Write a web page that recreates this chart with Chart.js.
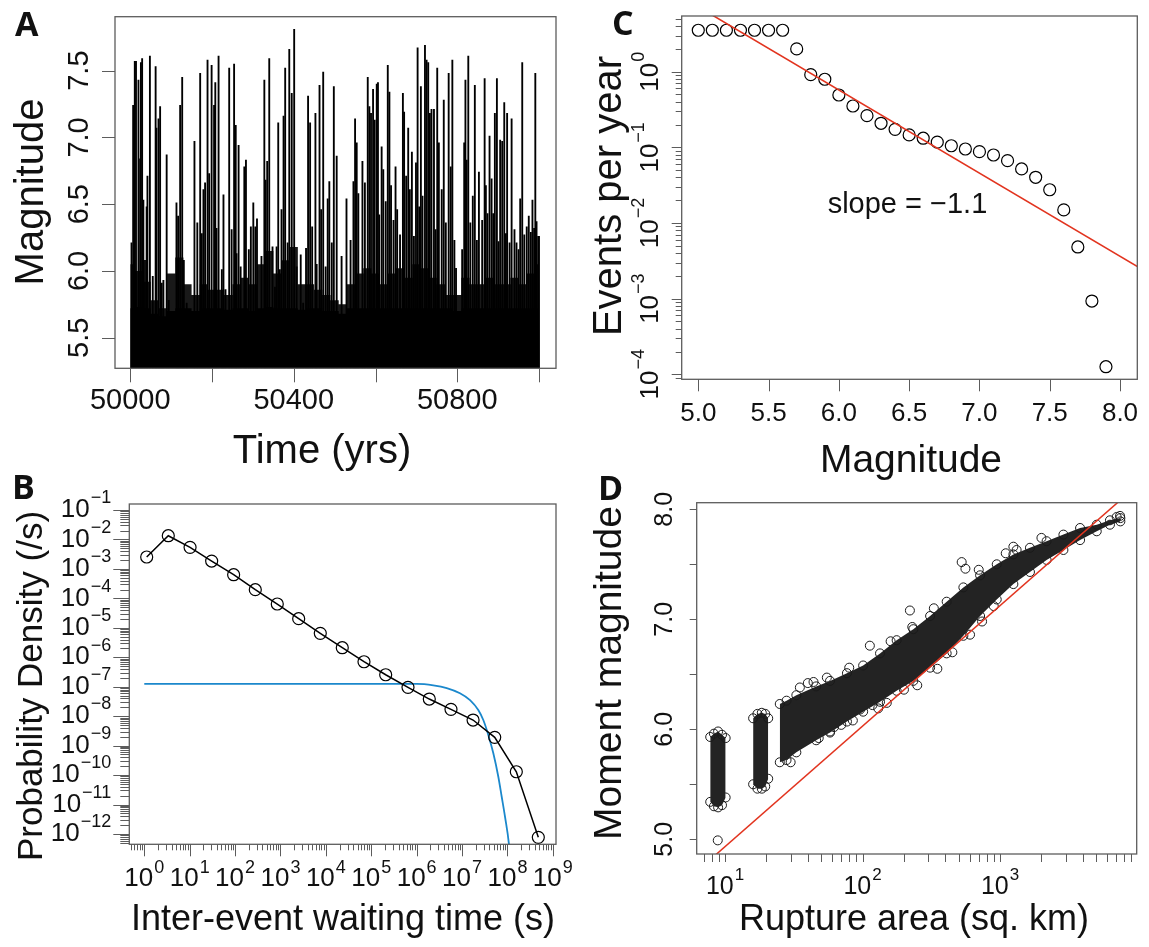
<!DOCTYPE html>
<html>
<head>
<meta charset="utf-8">
<script src="https://cdn.jsdelivr.net/npm/chart.js@4.4.1/dist/chart.umd.min.js"></script>
<style>
  html, body { margin: 0; padding: 0; background: #fff; }
  #fig { position: relative; width: 1149px; height: 947px; overflow: hidden; font-family: "Liberation Sans", Arial, sans-serif; color: #111; }
  #fig canvas { position: absolute; }
  .panel-tag { position: absolute; font-family: "Open Sans", sans-serif; font-weight: 700; font-size: 34px; line-height: 1; }
  .axis-title { position: absolute; white-space: nowrap; line-height: 1; transform: translate(-50%, -50%); }
  .axis-title.vert { transform: translate(-50%, -50%) rotate(-90deg); }
</style>
</head>
<body>
<div id="fig">
  <canvas id="chart-a" width="575" height="470" style="left:0;top:0"></canvas>
  <canvas id="chart-b" width="575" height="477" style="left:0;top:470px"></canvas>
  <canvas id="chart-c" width="574" height="470" style="left:575px;top:0"></canvas>
  <canvas id="chart-d" width="574" height="477" style="left:575px;top:470px"></canvas>

  <div class="panel-tag" style="left:15px;top:6px">A</div>
  <div class="panel-tag" style="left:12px;top:469px">B</div>
  <div class="panel-tag" style="left:612px;top:5px">C</div>
  <div class="panel-tag" style="left:598px;top:470px">D</div>

  <div class="axis-title vert" style="left:29px;top:192px;font-size:40px">Magnitude</div>
  <div class="axis-title" style="left:322px;top:449px;font-size:40px">Time (yrs)</div>
  <div class="axis-title vert" style="left:29px;top:686px;font-size:35px">Probability Density (/s)</div>
  <div class="axis-title" style="left:343px;top:918px;font-size:36px">Inter-event waiting time (s)</div>
  <div class="axis-title vert" style="left:607px;top:196px;font-size:40px">Events per year</div>
  <div class="axis-title" style="left:911px;top:458px;font-size:39px">Magnitude</div>
  <div class="axis-title vert" style="left:607px;top:673px;font-size:39px">Moment magnitude</div>
  <div class="axis-title" style="left:914px;top:918px;font-size:36px">Rupture area (sq. km)</div>
</div>

<script>
// ---- A: magnitude time series (years, magnitude of the taller spikes) ----
const aYears = [
  50003, 50007, 50011, 50014, 50020, 50024, 50026, 50029, 50032, 50036, 50040, 50042, 50048, 50055,
  50062, 50064, 50069, 50073, 50077, 50081, 50089, 50094, 50113, 50117, 50122, 50127, 50131, 50138,
  50157, 50164, 50171, 50175, 50179, 50183, 50189, 50193, 50199, 50205, 50208, 50211, 50216, 50224,
  50228, 50233, 50242, 50248, 50254, 50258, 50260, 50265, 50270, 50279, 50283, 50290, 50295, 50301,
  50306, 50310, 50321, 50328, 50331, 50335, 50340, 50348, 50354, 50358, 50362, 50366, 50370, 50375,
  50379, 50385, 50389, 50395, 50401, 50407, 50417, 50423, 50430, 50435, 50440, 50445, 50453, 50456,
  50463, 50467, 50472, 50478, 50483, 50487, 50493, 50498, 50505, 50517, 50529, 50539, 50546, 50550,
  50554, 50558, 50568, 50574, 50581, 50585, 50589, 50594, 50598, 50603, 50606, 50609, 50615, 50619,
  50625, 50630, 50634, 50638, 50644, 50649, 50653, 50660, 50667, 50670, 50675, 50680, 50684, 50689,
  50694, 50699, 50703, 50707, 50711, 50715, 50721, 50725, 50729, 50733, 50737, 50743, 50747, 50751,
  50755, 50762, 50767, 50772, 50779, 50784, 50788, 50793, 50797, 50812, 50817, 50820, 50823, 50827,
  50832, 50838, 50843, 50848, 50853, 50861, 50867, 50870, 50874, 50879, 50884, 50888, 50892, 50897,
  50901, 50905, 50910, 50915, 50919, 50922, 50928, 50933, 50940, 50945, 50950, 50954, 50959, 50964,
  50970, 50975, 50980, 50984, 50988, 50991, 50994, 50998, 51000,
];
const aMags = [
  6.21, 7.24, 7.57, 7.57, 7.43, 6.84, 7.56, 7.59, 6.53, 6.08, 6.48, 6.71, 7.61, 5.96,
  7.53, 7.07, 7.14, 7.23, 5.91, 5.93, 6.87, 5.78, 6.51, 6.41, 7.24, 7.45, 6.08, 5.76,
  6.97, 6.36, 7.48, 6.28, 6.61, 6.66, 7.58, 6.73, 7.54, 7.24, 7.41, 6.32, 7.61, 6.01,
  6.57, 5.86, 7.52, 6.31, 7.55, 7.09, 6.13, 6.94, 6.03, 6.78, 6.83, 6.16, 6.33, 6.51,
  6.33, 6.39, 6.11, 7.43, 6.68, 6.82, 7.59, 6.18, 5.88, 6.18, 7.11, 6.01, 6.46, 7.16,
  7.52, 6.21, 7.66, 7.33, 7.81, 6.03, 6.12, 5.76, 6.17, 7.31, 7.11, 6.33, 7.18, 6.05,
  7.39, 6.46, 7.49, 6.03, 6.54, 6.67, 6.21, 7.38, 6.86, 6.11, 6.54, 6.23, 6.67, 7.14,
  6.96, 6.58, 6.82, 6.66, 7.45, 7.23, 7.18, 7.36, 7.13, 7.40, 7.41, 6.42, 6.93, 6.76,
  6.52, 7.54, 7.34, 6.64, 6.38, 6.78, 6.46, 6.27, 7.33, 7.19, 6.71, 7.07, 6.61, 6.89,
  6.26, 6.81, 7.67, 6.48, 7.38, 6.56, 7.69, 7.58, 7.56, 7.18, 7.21, 7.21, 6.31, 7.52,
  6.96, 6.61, 7.28, 6.36, 7.48, 6.78, 7.58, 6.23, 6.02, 6.16, 6.96, 7.43, 6.83, 7.61,
  6.36, 6.56, 7.39, 6.23, 6.74, 6.38, 7.44, 6.64, 6.43, 7.01, 6.69, 6.43, 7.18, 7.44,
  6.22, 6.98, 6.97, 7.26, 6.28, 7.18, 6.21, 7.14, 6.31, 6.21, 6.16, 6.54, 7.56, 6.27,
  6.33, 6.41, 6.29, 6.53, 6.32, 7.48, 6.37, 6.26, 6.26,
];
// top of the dense band of small events, sampled every 20 years
const denseYears = [
  50000, 50020, 50040, 50060, 50080, 50100, 50120, 50140, 50160, 50180, 50200, 50220, 50240,
  50260, 50280, 50300, 50320, 50340, 50360, 50380, 50400, 50420, 50440, 50460, 50480, 50500,
  50520, 50540, 50560, 50580, 50600, 50620, 50640, 50660, 50680, 50700, 50720, 50740, 50760,
  50780, 50800, 50820, 50840, 50860, 50880, 50900, 50920, 50940, 50960, 50980, 51000,
];
const denseTop = [
  6.05, 6.00, 5.92, 5.78, 5.72, 5.98, 6.10, 5.90, 5.82, 5.90, 5.86, 5.86, 5.82,
  5.90, 5.95, 5.90, 6.05, 6.15, 5.98, 6.08, 6.18, 5.90, 5.90, 5.86, 5.82, 5.78,
  5.75, 5.90, 5.98, 6.02, 5.98, 5.90, 5.98, 6.02, 5.95, 6.05, 6.02, 5.95, 5.90,
  5.82, 5.82, 5.95, 5.90, 5.90, 5.95, 5.90, 5.90, 5.95, 5.90, 5.98, 6.05,
];
const floorTop = [
  5.72, 5.73, 5.72, 5.68, 5.66, 5.70, 5.72, 5.72, 5.70, 5.72, 5.72, 5.72, 5.71,
  5.72, 5.72, 5.70, 5.72, 5.73, 5.72, 5.72, 5.72, 5.71, 5.72, 5.72, 5.70, 5.70,
  5.68, 5.72, 5.72, 5.72, 5.72, 5.72, 5.72, 5.72, 5.72, 5.72, 5.72, 5.72, 5.72,
  5.72, 5.70, 5.72, 5.72, 5.72, 5.72, 5.72, 5.72, 5.72, 5.72, 5.72, 5.72,
];
const aXTicks = [50000, 50200, 50400, 50600, 50800, 51000];
const aXLabels = [50000, 50400, 50800];
const aYTicks = [5.5, 6.0, 6.5, 7.0, 7.5];
const aYLabels = ["5.5", "6.0", "6.5", "7.0", "7.5"];

// ---- B: waiting time distribution ----
const bWait = [1.13, 3.38, 10.2, 30.5, 93, 279, 851, 2520, 7540, 2.3e4, 6.92e4, 2.08e5, 6.45e5, 1.9e6, 5.71e6, 1.75e7, 5.25e7, 1.57e8, 4.79e8];
const bDensity = [2.54e-3, 1.34e-2, 5.41e-3, 1.85e-3, 6.35e-4, 1.97e-4, 6.43e-5, 2.04e-5, 6.5e-6, 2.11e-6, 7.06e-7, 2.55e-7, 9.55e-8, 3.82e-8, 1.71e-8, 7.4e-9, 1.91e-9, 1.3e-10, 7.69e-13];
const bFitWait = [1, 1e6, 2.33e6, 4.6e6, 9.0e6, 1.5e7, 2.28e7, 2.94e7, 3.79e7, 4.89e7, 6.3e7, 7.48e7, 8.85e7, 1.08e8, 1.2e8];
const bFitDensity = [1.24e-7, 1.24e-7, 1.11e-7, 9.0e-8, 6.0e-8, 3.5e-8, 1.62e-8, 7.4e-9, 2.3e-9, 5.5e-10, 8.8e-11, 1.84e-11, 3.85e-12, 4.5e-13, 6e-14];
const bXExps = [0, 1, 2, 3, 4, 5, 6, 7, 8, 9];
const bYExps = [-1, -2, -3, -4, -5, -6, -7, -8, -9, -10, -11, -12];

// ---- C: magnitude-frequency ----
const cMag = [5.0, 5.1, 5.2, 5.3, 5.4, 5.5, 5.6, 5.7, 5.8, 5.9, 6.0, 6.1, 6.2, 6.3, 6.4, 6.5, 6.6, 6.7, 6.8, 6.9, 7.0, 7.1, 7.2, 7.3, 7.4, 7.5, 7.6, 7.7, 7.8, 7.9];
const cRate = [3.53, 3.53, 3.53, 3.53, 3.53, 3.53, 3.53, 2.0, 0.913, 0.794, 0.492, 0.352, 0.262, 0.208, 0.173, 0.146, 0.132, 0.117, 0.105, 0.095, 0.0877, 0.0792, 0.0667, 0.0518, 0.0402, 0.0275, 0.0149, 0.00482, 0.00093, 0.000126];
const cLineMag = [4.88, 8.13];
const cLineRate = [9.75, 0.00262];
const cXTicks = [5.0, 5.5, 6.0, 6.5, 7.0, 7.5, 8.0];
const cYExps = [0, -1, -2, -3, -4];

// ---- D: magnitude vs rupture area ----
const dBandArea = [25, 28, 33, 46, 58, 77, 101, 134, 177, 234, 310, 409, 541, 716, 946, 1250, 1650, 2180, 2890, 3820, 5050, 6300, 7500];
const dBandUpper = [6.23, 6.26, 6.31, 6.39, 6.44, 6.51, 6.58, 6.69, 6.81, 6.91, 7.03, 7.16, 7.29, 7.40, 7.50, 7.59, 7.65, 7.71, 7.77, 7.83, 7.86, 7.90, 7.92];
const dBandLower = [5.70, 5.72, 5.79, 5.90, 5.97, 6.07, 6.16, 6.25, 6.35, 6.44, 6.56, 6.69, 6.85, 7.03, 7.18, 7.32, 7.43, 7.54, 7.63, 7.72, 7.80, 7.86, 7.89];
const dClusterOneArea = [7.8, 8.3, 8.9, 9.5, 10.1];
const dClusterOneUpper = [5.93, 5.96, 5.98, 5.95, 5.92];
const dClusterOneLower = [5.34, 5.30, 5.29, 5.31, 5.38];
const dClusterTwoArea = [16.0, 17.2, 18.5, 19.6, 20.6];
const dClusterTwoUpper = [6.10, 6.14, 6.15, 6.14, 6.10];
const dClusterTwoLower = [5.50, 5.46, 5.46, 5.48, 5.55];
const dOutArea = [
  8.85, 526, 560, 221, 113, 35, 44, 96, 118, 200, 605, 740, 7050, 7460, 1250, 1320, 62, 48, 30,
  58, 70, 85, 130, 150, 250, 350, 450, 900, 40, 55, 80, 160, 230, 330, 700, 1100, 2000,
];
const dOutMag = [
  4.99, 7.52, 7.46, 7.08, 6.76, 6.38, 6.43, 6.18, 6.22, 6.36, 6.86, 6.98, 7.93, 7.94, 7.66, 7.63, 6.02, 5.92, 5.70,
  5.98, 6.04, 6.08, 6.19, 6.24, 6.40, 6.55, 6.70, 7.12, 6.42, 6.47, 6.56, 6.80, 6.93, 7.10, 7.45, 7.60, 7.74,
];
const dLineArea = [6, 10000];
const dLineMag = [4.69, 8.22];
const dXExps = [1, 2, 3];
const dYTicks = [5.0, 5.5, 6.0, 6.5, 7.0, 7.5, 8.0];
const dYLabels = [[5.0, "5.0"], [6.0, "6.0"], [7.0, "7.0"], [8.0, "8.0"]];

const minorSteps = [2, 3, 4, 5, 6, 7, 8, 9];

const frameColor = "#5c5c5c";
const inkColor = "#111";
const fontStack = '"Liberation Sans", Arial, sans-serif';

Chart.defaults.font.family = fontStack;

function zip(xs, ys) {
  return xs.map((x, i) => ({ x, y: ys[i] }));
}

function decades(exps) {
  return exps.map((e) => Math.pow(10, e));
}

function minorTicks(fromExp, toExp) {
  const out = [];
  for (let e = fromExp; e <= toExp; e++) minorSteps.forEach((s) => out.push(s * Math.pow(10, e)));
  return out;
}

function expText(e) {
  return e < 0 ? "\u2212" + Math.abs(e) : String(e);
}

function drawLabel(ctx, text, exp, x, y, size, align, rotate) {
  const expSize = Math.round(size * 0.68);
  ctx.save();
  ctx.translate(x, y);
  if (rotate) ctx.rotate(-Math.PI / 2);
  ctx.font = `${size}px ${fontStack}`;
  const wBase = ctx.measureText(text).width;
  let wExp = 0;
  if (exp) {
    ctx.font = `${expSize}px ${fontStack}`;
    wExp = ctx.measureText(exp).width + 1;
  }
  const total = wBase + wExp;
  const start = align === "right" ? -total : -total / 2;
  ctx.fillStyle = inkColor;
  ctx.textAlign = "left";
  ctx.textBaseline = "middle";
  ctx.font = `${size}px ${fontStack}`;
  ctx.fillText(text, start, 0);
  if (exp) {
    ctx.font = `${expSize}px ${fontStack}`;
    ctx.fillText(exp, start + wBase + 1, -size * 0.45);
  }
  ctx.restore();
}

// R style frame, ticks and labels drawn from the chart's own scales
function rAxes(spec) {
  return {
    id: "rAxes",
    afterDraw(chart) {
      const { ctx, chartArea: area } = chart;
      const xs = chart.scales.x;
      const ys = chart.scales.y;
      const inX = (v) => v >= xs.min && v <= xs.max;
      const inY = (v) => v >= ys.min && v <= ys.max;
      ctx.save();
      ctx.strokeStyle = frameColor;
      ctx.lineWidth = 1.3;
      ctx.strokeRect(area.left, area.top, area.right - area.left, area.bottom - area.top);

      ctx.beginPath();
      ctx.lineWidth = 1;
      [[spec.x.major, spec.x.majorLen], [spec.x.minor || [], spec.x.minorLen]].forEach(([vals, len]) => {
        vals.filter(inX).forEach((v) => {
          const p = Math.round(xs.getPixelForValue(v)) + 0.5;
          ctx.moveTo(p, area.bottom);
          ctx.lineTo(p, area.bottom + len);
        });
      });
      [[spec.y.major, spec.y.majorLen], [spec.y.minor || [], spec.y.minorLen]].forEach(([vals, len]) => {
        vals.filter(inY).forEach((v) => {
          const p = Math.round(ys.getPixelForValue(v)) + 0.5;
          ctx.moveTo(area.left, p);
          ctx.lineTo(area.left - len, p);
        });
      });
      ctx.stroke();

      spec.x.labels.forEach(([v, text, exp]) => {
        drawLabel(ctx, text, exp, xs.getPixelForValue(v), area.bottom + spec.x.gap, spec.x.size, "center", false);
      });
      spec.y.labels.forEach(([v, text, exp]) => {
        const p = ys.getPixelForValue(v);
        drawLabel(ctx, text, exp, area.left - spec.y.gap, p, spec.y.size, spec.y.rotate ? "center" : "right", spec.y.rotate);
      });

      (spec.notes || []).forEach((n) => {
        ctx.font = `${n.size}px ${fontStack}`;
        ctx.fillStyle = inkColor;
        ctx.textAlign = "center";
        ctx.textBaseline = "alphabetic";
        ctx.fillText(n.text, xs.getPixelForValue(n.x), ys.getPixelForValue(n.y));
      });
      ctx.restore();
    },
  };
}

function baseOptions(padding, x, y) {
  return {
    responsive: false,
    animation: false,
    events: [],
    devicePixelRatio: 1,
    layout: { padding },
    plugins: { legend: { display: false }, tooltip: { enabled: false } },
    scales: {
      x: { display: false, offset: false, bounds: "data", ...x },
      y: { display: false, offset: false, bounds: "data", ...y },
    },
  };
}

// ---------- A ----------
new Chart(document.getElementById("chart-a"), {
  type: "bar",
  data: {
    datasets: [
      {
        type: "bar",
        data: zip(aYears, aMags),
        backgroundColor: "#000",
        barThickness: 1.2,
        borderWidth: 0,
        order: 0,
      },
      {
        type: "line",
        data: zip(denseYears, floorTop),
        fill: "start",
        backgroundColor: "#000",
        borderWidth: 0,
        pointRadius: 0,
        stepped: "middle",
        order: 1,
      },
      {
        type: "line",
        data: zip(denseYears, denseTop),
        fill: "start",
        backgroundColor: "rgba(0,0,0,0.9)",
        borderWidth: 0,
        pointRadius: 0,
        stepped: "middle",
        order: 2,
      },
    ],
  },
  options: baseOptions(
    { left: 115, right: 19, top: 16.7, bottom: 101.7 },
    { type: "linear", min: 49962.6, max: 51041.6 },
    { type: "linear", min: 5.271, max: 7.904 },
  ),
  plugins: [
    rAxes({
      x: { major: aXTicks, majorLen: 14, labels: aXLabels.map((v) => [v, String(v)]), gap: 32.7, size: 29 },
      y: { major: aYTicks, majorLen: 13, labels: aYTicks.map((v, i) => [v, aYLabels[i]]), gap: 35, size: 29, rotate: true },
    }),
  ],
});

// ---------- B ----------
new Chart(document.getElementById("chart-b"), {
  type: "line",
  data: {
    datasets: [
      {
        data: zip(bFitWait, bFitDensity),
        borderColor: "#1b88cc",
        borderWidth: 1.8,
        pointRadius: 0,
        cubicInterpolationMode: "monotone",
        fill: false,
        order: 1,
      },
      {
        data: zip(bWait, bDensity),
        borderColor: "#000",
        borderWidth: 1.5,
        pointRadius: 6,
        pointBorderWidth: 1.2,
        pointBorderColor: "#000",
        pointBackgroundColor: "rgba(0,0,0,0)",
        fill: false,
        order: 0,
      },
    ],
  },
  options: baseOptions(
    { left: 129.3, right: 19, top: 34, bottom: 102.7 },
    { type: "logarithmic", min: Math.pow(10, -0.33), max: Math.pow(10, 9.07) },
    { type: "logarithmic", min: Math.pow(10, -12.35), max: Math.pow(10, -0.796) },
  ),
  plugins: [
    rAxes({
      x: {
        major: decades(bXExps), majorLen: 12, minor: minorTicks(-1, 9), minorLen: 6,
        labels: bXExps.map((e) => [Math.pow(10, e), "10", expText(e)]), gap: 35, size: 26,
      },
      y: {
        major: decades(bYExps), majorLen: 16, minor: minorTicks(-13, -1), minorLen: 9,
        labels: bYExps.map((e) => [Math.pow(10, e), "10", expText(e)]), gap: 18, size: 26,
      },
    }),
  ],
});

// ---------- C ----------
new Chart(document.getElementById("chart-c"), {
  type: "scatter",
  data: {
    datasets: [
      {
        data: zip(cMag, cRate),
        showLine: false,
        pointRadius: 6,
        pointBorderWidth: 1.2,
        pointBorderColor: "#000",
        pointBackgroundColor: "rgba(0,0,0,0)",
        order: 1,
      },
      {
        data: zip(cLineMag, cLineRate),
        showLine: true,
        borderColor: "#e2341f",
        borderWidth: 1.6,
        pointRadius: 0,
        order: 0,
      },
    ],
  },
  options: baseOptions(
    { left: 106.7, right: 11.7, top: 16, bottom: 90.7 },
    { type: "linear", min: 4.882, max: 8.123 },
    { type: "logarithmic", min: Math.pow(10, -4.066), max: Math.pow(10, 0.736) },
  ),
  plugins: [
    rAxes({
      x: { major: cXTicks, majorLen: 12, labels: cXTicks.map((v) => [v, v.toFixed(1)]), gap: 35, size: 26 },
      y: {
        major: decades(cYExps), majorLen: 10, minor: minorTicks(-5, 0), minorLen: 6,
        labels: cYExps.map((e) => [Math.pow(10, e), "10", expText(e)]), gap: 31, size: 26, rotate: true,
      },
      notes: [{ text: "slope = \u22121.1", x: 6.488, y: 0.0134, size: 29 }],
    }),
  ],
});

// ---------- D ----------
const bandStyle = {
  showLine: true,
  borderWidth: 0,
  borderColor: "rgba(0,0,0,0)",
  backgroundColor: "#232323",
  pointRadius: 4.5,
  pointBorderWidth: 1,
  pointBorderColor: "#1a1a1a",
  pointBackgroundColor: "rgba(0,0,0,0)",
};
const dXMinor = [7, 8, 9, 20, 30, 40, 50, 60, 70, 80, 90, 200, 300, 400, 500, 600, 700, 800, 900, 2000, 3000, 4000, 5000, 6000, 7000, 8000, 9000];

new Chart(document.getElementById("chart-d"), {
  type: "scatter",
  data: {
    datasets: [
      { ...bandStyle, data: zip(dBandArea, dBandUpper), fill: "+1" },
      { ...bandStyle, data: zip(dBandArea, dBandLower), fill: false },
      { ...bandStyle, data: zip(dClusterOneArea, dClusterOneUpper), fill: "+1" },
      { ...bandStyle, data: zip(dClusterOneArea, dClusterOneLower), fill: false },
      { ...bandStyle, data: zip(dClusterTwoArea, dClusterTwoUpper), fill: "+1" },
      { ...bandStyle, data: zip(dClusterTwoArea, dClusterTwoLower), fill: false },
      {
        data: zip(dOutArea, dOutMag),
        showLine: false,
        pointRadius: 4.5,
        pointBorderWidth: 1,
        pointBorderColor: "#1a1a1a",
        pointBackgroundColor: "rgba(0,0,0,0)",
      },
      {
        data: zip(dLineArea, dLineMag),
        showLine: true,
        borderColor: "#e2341f",
        borderWidth: 1.5,
        pointRadius: 0,
        order: -1,
      },
    ],
  },
  options: baseOptions(
    { left: 121.7, right: 12.3, top: 32.7, bottom: 93 },
    { type: "logarithmic", min: 6.22, max: 9860 },
    { type: "linear", min: 4.866, max: 8.06 },
  ),
  plugins: [
    rAxes({
      x: {
        major: decades(dXExps), majorLen: 8, minor: dXMinor, minorLen: 8,
        labels: dXExps.map((e) => [Math.pow(10, e), "10", expText(e)]), gap: 33, size: 25,
      },
      y: { major: dYTicks, majorLen: 7, labels: dYLabels, gap: 32, size: 25, rotate: true },
    }),
  ],
});
</script>
</body>
</html>
